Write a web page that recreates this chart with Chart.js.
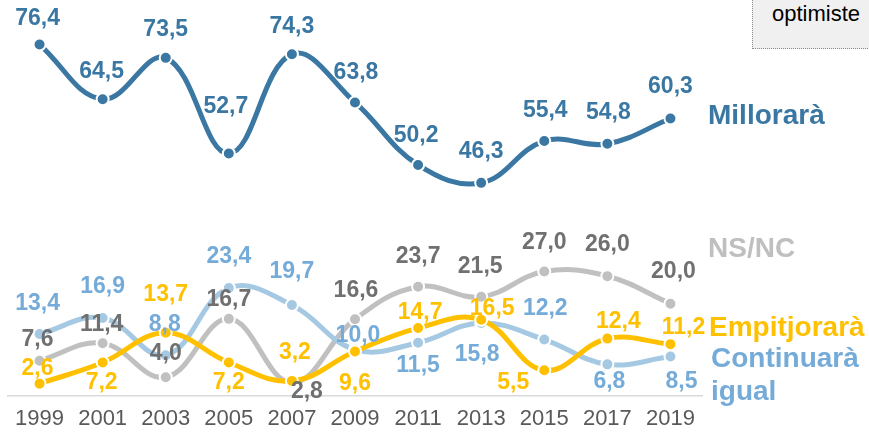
<!DOCTYPE html>
<html>
<head>
<meta charset="utf-8">
<script src="https://cdn.jsdelivr.net/npm/chart.js@4/dist/chart.umd.min.js"></script>
<style>
  body { margin: 0; overflow: hidden; background: #fff; }
  #wrap { position: relative; width: 869px; height: 435px; overflow: hidden; }
  #legendBox {
    position: absolute; left: 752px; top: -2px; width: 130px; height: 51px;
    background: #f0f0f0; border: 1px dotted #8c8c8c; box-sizing: border-box;
    font: 22px "Liberation Sans", Arial, sans-serif; color: #000;
    padding: 2px 0 0 19px; white-space: nowrap;
  }
</style>
</head>
<body>
<div id="wrap">
  <canvas id="chart" width="869" height="442"></canvas>
  <div id="legendBox">optimiste</div>
</div>
<script>
// values
const years = ['1999', '2001', '2003', '2005', '2007', '2009', '2011', '2013', '2015', '2017', '2019'];
const millorara = [76.4, 64.5, 73.5, 52.7, 74.3, 63.8, 50.2, 46.3, 55.4, 54.8, 60.3];
const nsnc = [7.6, 11.4, 4.0, 16.7, 2.8, 16.6, 23.7, 21.5, 27.0, 26.0, 20.0];
const empitjorara = [2.6, 7.2, 13.7, 7.2, 3.2, 9.6, 14.7, 16.5, 5.5, 12.4, 11.2];
const continuara = [13.4, 16.9, 8.8, 23.4, 19.7, 10.0, 11.5, 15.8, 12.2, 6.8, 8.5];

// label offsets from each point [dx, dy] in px
const offMillorara = [[-2,-26],[-1,-28],[0,-28],[-3,-47],[0,-28],[1,-30],[-2,-29],[0,-31],[1,-30],[1,-31],[0,-32]];
const offNsnc = [[-2,-21],[-1,-19],[0,-24],[0,-19],[15,9],[1,-29],[0,-30],[-1,-30],[0,-29],[0,-31],[3,-32]];
const offEmp = [[-2,-15],[-1,20],[0,-38],[0,20],[3,-28],[0,32],[2,-15],[11,-11],[-31,12],[11,-17],[13,-16]];
const offCont = [[-2,-30],[0,-31],[-1,-31],[0,-31],[0,-33],[3,-14],[0,23],[-4,32],[1,-31],[2,17],[11,25]];

const FONT = '"Liberation Sans", Arial, sans-serif';

const valueLabels = {
  id: 'valueLabels',
  afterDatasetsDraw(chart) {
    const ctx = chart.ctx;
    ctx.save();
    ctx.font = 'bold 23px ' + FONT;
    ctx.textAlign = 'center';
    ctx.textBaseline = 'middle';
    chart.data.datasets.forEach((ds, i) => {
      const meta = chart.getDatasetMeta(i);
      ctx.fillStyle = ds.labelColor;
      meta.data.forEach((pt, j) => {
        const o = ds.labelOffsets[j];
        ctx.fillText(ds.data[j].toFixed(1).replace('.', ','), pt.x + o[0], pt.y + o[1]);
      });
    });
    // series names on the right
    const x = chart.chartArea.right + 6;
    ctx.textAlign = 'left';
    ctx.font = 'bold 28px ' + FONT;
    ctx.fillStyle = '#3a77a3'; ctx.fillText('Millorarà', x, 116);
    ctx.fillStyle = '#bfbfbf'; ctx.fillText('NS/NC', x, 249);
    ctx.fillStyle = '#ffc000'; ctx.fillText('Empitjorarà', x + 1, 328);
    ctx.fillStyle = '#75abd8'; ctx.fillText('Continuarà', x + 3, 359);
    ctx.fillText('igual', x + 3, 392);
    ctx.restore();
  }
};

function series(label, data, color, labelColor, offsets) {
  return {
    label: label,
    data: data,
    borderColor: color,
    backgroundColor: color,
    pointBackgroundColor: color,
    pointBorderColor: '#ffffff',
    pointBorderWidth: 2,
    pointRadius: 6,
    borderWidth: 5,
    tension: 0.4,
    labelColor: labelColor,
    labelOffsets: offsets
  };
}

new Chart(document.getElementById('chart'), {
  type: 'line',
  data: {
    labels: years,
    datasets: [
      series('Empitjorarà', empitjorara, '#ffc000', '#ffc000', offEmp),
      series('Continuarà igual', continuara, '#a6c9e3', '#75abd8', offCont),
      series('NS/NC', nsnc, '#c0c0c0', '#707070', offNsnc),
      series('Millorarà', millorara, '#3a77a3', '#3a77a3', offMillorara)
    ]
  },
  options: {
    responsive: false,
    animation: false,
    layout: { padding: { left: 8, right: 167, top: 28, bottom: 0 } },
    plugins: { legend: { display: false }, tooltip: { enabled: false } },
    scales: {
      x: {
        offset: true,
        grid: { display: false, drawTicks: false },
        border: { display: true, color: '#d9d9d9', width: 1.5 },
        ticks: { color: '#595959', font: { family: FONT, size: 22 }, padding: 10, maxRotation: 0 }
      },
      y: {
        display: false,
        min: 0,
        max: 80
      }
    }
  },
  plugins: [valueLabels]
});
</script>
</body>
</html>
